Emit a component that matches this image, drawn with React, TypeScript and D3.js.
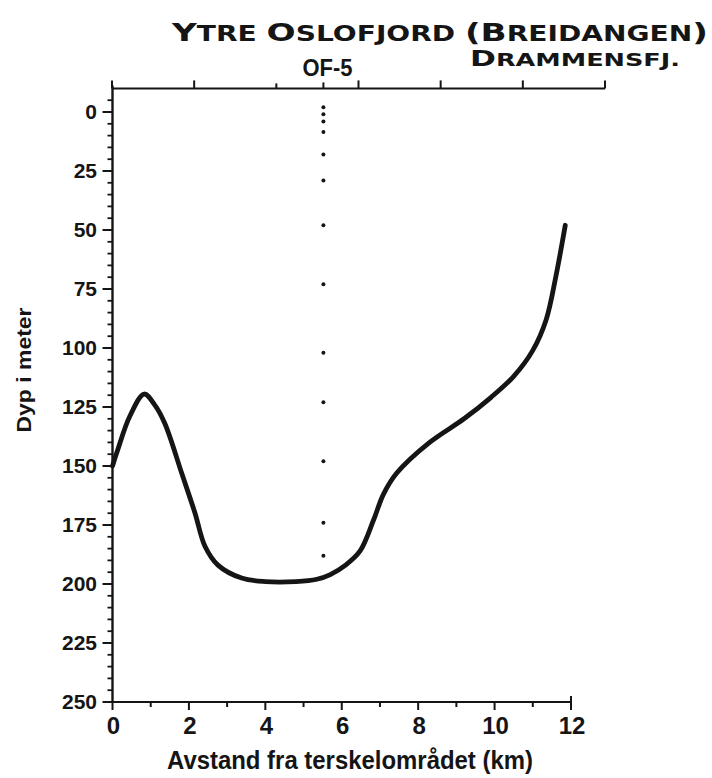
import React from "react";
import * as d3 from "d3";

// Bottom profile along the fjord: distance (km) and depth (m)
const distanceKm = [0, 0.12, 0.45, 0.83, 1.1, 1.37, 1.81, 2.16, 2.42, 2.76, 3.38, 4.0, 4.8, 5.35, 5.7, 6.1, 6.48, 6.83, 7.09, 7.44, 8.3, 9.2, 9.9, 10.5, 11.0, 11.35, 11.6, 11.85];
const depthM = [150, 144, 129, 119.5, 124, 132, 153, 170, 184, 192, 197.5, 199, 199, 198, 196, 192, 186, 173, 162, 153, 140, 130, 121, 112, 101, 88, 70, 48];

// Sampling depths at station OF-5
const stationName = "OF-5";
const stationKm = 5.52;
const sampleDepths = [-2, 1, 4, 8.5, 18, 29, 48, 73, 102, 123, 148, 174, 188];

// Axis ticks
const depthTicks = [0, 25, 50, 75, 100, 125, 150, 175, 200, 225, 250];
const depthMinor = d3.range(-5, 250, 5);
const kmTicks = [0, 2, 4, 6, 8, 10, 12];
const kmMinor = d3.range(1, 12, 2);
const topTicks = [0, 1, 2, 3, 4, 5, 6];
const topShort = [2];

const W = 712;
const H = 778;

const x = d3.scaleLinear().domain([0, 12]).range([112.5, 571]);
const y = d3.scaleLinear().domain([-10, 250]).range([88.4, 702]);
const xTop = d3.scaleLinear().domain([0, 6]).range([112, 605]);

const ink = "#151515";
const numFont = "'Liberation Sans', Arial, sans-serif";
const titleFont = "'DejaVu Sans', sans-serif";

function SmallCaps({ parts, big, small }: { parts: [string, boolean][]; big: number; small: number }) {
  return (
    <>
      {parts.map(([t, isBig], i) => (
        <tspan key={i} fontSize={isBig ? big : small}>
          {t}
        </tspan>
      ))}
    </>
  );
}

export default function App() {
  const profile = d3
    .line<number>()
    .x((_, i) => x(distanceKm[i]))
    .y((d) => y(d))
    .curve(d3.curveCatmullRom.alpha(0.5))(depthM) as string;

  const x0 = x(0);
  const yBottom = y(250);
  const yTop = y(-10);

  return (
    <svg
      width={W}
      height={H}
      viewBox={`0 0 ${W} ${H}`}
      style={{ position: "absolute", left: 0, top: 0, background: "#fff" }}
    >
      {/* Title */}
      <text x={172} y={41} fontFamily={titleFont} fontWeight="bold" fill={ink} textLength={536} lengthAdjust="spacingAndGlyphs">
        <SmallCaps
          big={25}
          small={20.5}
          parts={[
            ["Y", true],
            ["TRE ", false],
            ["O", true],
            ["SLOFJORD ", false],
            ["(B", true],
            ["REIDANGEN", false],
            [")", true],
          ]}
        />
      </text>
      <text x={470} y={66} fontFamily={titleFont} fontWeight="bold" fill={ink} textLength={210} lengthAdjust="spacingAndGlyphs">
        <SmallCaps big={22} small={18} parts={[["D", true], ["RAMMENSFJ.", false]]} />
      </text>
      <text x={x(stationKm) + 4} y={76} textAnchor="middle" fontFamily={numFont} fontWeight="bold" fontSize={24} fill={ink} textLength={50} lengthAdjust="spacingAndGlyphs">
        {stationName}
      </text>

      {/* Top axis */}
      <line x1={x0} x2={xTop(6)} y1={yTop} y2={yTop} stroke={ink} strokeWidth={2} />
      {topTicks.map((t) => (
        <line key={`tt${t}`} x1={xTop(t)} x2={xTop(t)} y1={yTop} y2={yTop - (topShort.includes(t) ? 5 : 8)} stroke={ink} strokeWidth={2} />
      ))}
      <line x1={x(stationKm)} x2={x(stationKm)} y1={yTop} y2={yTop - 6} stroke={ink} strokeWidth={2} />

      {/* Left axis */}
      <line x1={x0} x2={x0} y1={yTop - 3} y2={yBottom} stroke={ink} strokeWidth={2.4} />
      {depthMinor.map((d) => (
        <line key={`dm${d}`} x1={x0} x2={x0 - 5} y1={y(d)} y2={y(d)} stroke={ink} strokeWidth={1.8} />
      ))}
      {depthTicks.map((d) => (
        <g key={`dt${d}`}>
          <line x1={x0} x2={x0 - 10} y1={y(d)} y2={y(d)} stroke={ink} strokeWidth={2} />
          <text x={97} y={y(d) + 7} textAnchor="end" fontFamily={numFont} fontWeight="bold" fontSize={21} fill={ink}>
            {d}
          </text>
        </g>
      ))}
      <text
        transform={`translate(31,370) rotate(-90)`}
        textAnchor="middle"
        fontFamily={numFont}
        fontWeight="bold"
        fontSize={20}
        fill={ink}
        textLength={125}
        lengthAdjust="spacingAndGlyphs"
      >
        Dyp i meter
      </text>

      {/* Bottom axis */}
      <line x1={x0} x2={x(12)} y1={yBottom} y2={yBottom} stroke={ink} strokeWidth={2.2} />
      {kmMinor.map((k) => (
        <line key={`km${k}`} x1={x(k)} x2={x(k)} y1={yBottom} y2={yBottom + 5} stroke={ink} strokeWidth={2} />
      ))}
      {kmTicks.map((k) => (
        <g key={`kt${k}`}>
          <line x1={x(k)} x2={x(k)} y1={yBottom - (k === 12 ? 6 : 0)} y2={yBottom + 8} stroke={ink} strokeWidth={2} />
          <text x={x(k) + 1} y={734} textAnchor="middle" fontFamily={numFont} fontWeight="bold" fontSize={24} fill={ink}>
            {k}
          </text>
        </g>
      ))}
      <text x={350} y={769} textAnchor="middle" fontFamily={numFont} fontWeight="bold" fontSize={25} fill={ink} textLength={366} lengthAdjust="spacingAndGlyphs">
        Avstand fra terskelområdet (km)
      </text>

      {/* Station sampling depths */}
      {sampleDepths.map((d, i) => (
        <circle key={`s${i}`} cx={x(stationKm)} cy={y(d)} r={2} fill={ink} />
      ))}

      {/* Bottom profile */}
      <path d={profile} fill="none" stroke={ink} strokeWidth={4.8} strokeLinecap="round" strokeLinejoin="round" />
    </svg>
  );
}
